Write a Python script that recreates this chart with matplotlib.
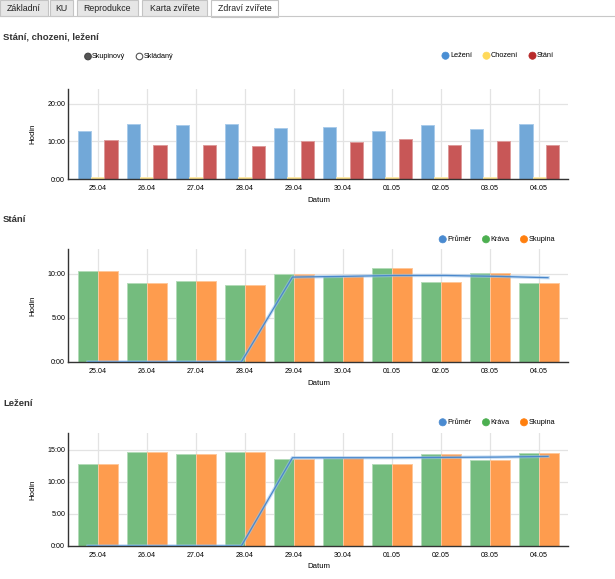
import matplotlib
matplotlib.use("Agg")
import matplotlib.pyplot as plt
from matplotlib.patches import Rectangle, Circle
from matplotlib.ticker import FuncFormatter, FixedLocator

plt.rcParams['font.family'] = ['Liberation Sans', 'DejaVu Sans']

# ---------------- data ----------------
dates = ["25.04", "26.04", "27.04", "28.04", "29.04", "30.04", "01.05", "02.05", "03.05", "04.05"]

lezeni_krava = [12.7, 14.6, 14.3, 14.6, 13.5, 13.7, 12.7, 14.3, 13.4, 14.55]
chozeni_krava = [0.5, 0.5, 0.45, 0.45, 0.45, 0.45, 0.5, 0.5, 0.5, 0.45]
stani_krava = [10.3, 8.9, 9.13, 8.72, 10.0, 9.77, 10.64, 9.09, 10.04, 8.98]

stani_skupina = [10.3, 8.9, 9.13, 8.72, 10.0, 9.77, 10.64, 9.09, 10.04, 8.98]
stani_prumer = [0, 0, 0, 0, 9.62, 9.7, 9.8, 9.8, 9.7, 9.55]

lezeni_skupina = [12.7, 14.6, 14.3, 14.6, 13.5, 13.7, 12.7, 14.3, 13.4, 14.55]
lezeni_prumer = [0, 0, 0, 0, 13.75, 13.75, 13.75, 13.8, 13.85, 13.95]

tabs = ["Základní", "KU", "Reprodukce", "Karta zvířete", "Zdraví zvířete"]

# ---------------- figure ----------------
W, H = 615, 579
fig = plt.figure(figsize=(W / 100, H / 100), dpi=100)
fig.patch.set_facecolor("white")

def ax_px(l, t, r, b):
    return fig.add_axes([l / W, 1 - b / H, (r - l) / W, (b - t) / H])

def hm(v, pos=None):
    h = int(v)
    m = int(round((v - h) * 60))
    return f"{h}:{m:02d}"

GRID = "#e3e3e3"
TXT = "#000000"

def style_axis(ax, ymax, yticks):
    ax.set_xlim(-0.61, 9.59)
    ax.set_ylim(0, ymax)
    for s in ["top", "right"]:
        ax.spines[s].set_visible(False)
    for s in ["left", "bottom"]:
        ax.spines[s].set_color("#333333")
        ax.spines[s].set_linewidth(1.0)
        ax.spines[s].set_zorder(5)
    ax.set_xticks(range(len(dates)))
    ax.set_xticklabels(dates)
    ax.yaxis.set_major_locator(FixedLocator(yticks))
    ax.yaxis.set_major_formatter(FuncFormatter(hm))
    ax.tick_params(axis="both", length=0, labelsize=5.1, colors=TXT)
    ax.tick_params(axis="x", pad=4)
    ax.tick_params(axis="y", pad=2)
    ax.grid(True, color=GRID, linewidth=0.9)
    ax.set_axisbelow(True)
    ax.set_facecolor("none")

x = list(range(len(dates)))

# ---- chart 1 ----
ax1 = ax_px(68, 89, 568, 179)
w1 = 0.268
c_blue, c_yel, c_red = "#72a8d8", "#fddf86", "#c85757"
ax1.bar([i - w1 for i in x], lezeni_krava, w1, color=c_blue, edgecolor="#a9cbea", linewidth=0.7, zorder=2)
ax1.bar(x, chozeni_krava, w1, color=c_yel, edgecolor="#fde9a8", linewidth=0.6, zorder=2)
ax1.bar([i + w1 for i in x], stani_krava, w1, color=c_red, edgecolor="#dd9a9a", linewidth=0.7, zorder=2)
style_axis(ax1, 23.9, [0, 10, 20])

# ---- charts 2 and 3 ----
def combo(ax, krava, skupina, prumer, ymax, yticks):
    w = 0.40
    ax.bar([i - w / 2 for i in x], krava, w, color="#74bc7e", edgecolor="#b3dbb8", linewidth=0.7, zorder=2)
    ax.bar([i + w / 2 for i in x], skupina, w, color="#fe9c4e", edgecolor="#fec79a", linewidth=0.7, zorder=2)
    style_axis(ax, ymax, yticks)
    axl = ax.twiny()
    axl.set_xlim(-0.391, 9.391)
    axl.set_ylim(0, ymax)
    axl.axis("off")
    axl.plot(x, prumer, color="#9cc3ea", linewidth=2.4, alpha=0.6, zorder=3)
    axl.plot(x, prumer, color="#4a88cc", linewidth=0.9, zorder=4)

ax2 = ax_px(68, 249, 568, 362)
combo(ax2, stani_krava, stani_skupina, stani_prumer, 12.8, [0, 5, 10])

ax3 = ax_px(68, 433, 568, 546)
combo(ax3, lezeni_krava, lezeni_skupina, lezeni_prumer, 17.6, [0, 5, 10, 15])

# ---------------- overlay (page elements) ----------------
ov = fig.add_axes([0, 0, 1, 1], zorder=10)
ov.set_xlim(0, W)
ov.set_ylim(H, 0)
ov.axis("off")
ov.patch.set_alpha(0)

# tabs
tab_x = [(0, 48), (50, 73), (77, 138), (142, 207), (211, 278)]
ov.plot([0, W], [15.5, 15.5], color="#c8c8c8", linewidth=0.8)
for (l, r), name in zip(tab_x, tabs):
    active = name == "Zdraví zvířete"
    fc = "white" if active else "#e6e6e6"
    ov.add_patch(Rectangle((l, 0), r - l, 15.5 if not active else 16.5, facecolor=fc,
                           edgecolor="#c4c4c4", linewidth=0.8))
    ov.text((l + r) / 2, 8.5, name, ha="center", va="center", fontsize=6.3, color="#222222")

# headings
for y, t in [(37, "Stání, chozeni, ležení"), (219.5, "Stání"), (403, "Ležení")]:
    ov.text(3, y, t, ha="left", va="center", fontsize=6.8, fontweight="bold", color="#333333")

# radio buttons
ov.add_patch(Circle((88, 56.5), 3.3, facecolor="#555555", edgecolor="#444444", linewidth=0.8))
ov.text(92, 56.5, "Skupinový", ha="left", va="center", fontsize=5.2, color=TXT)
ov.add_patch(Circle((139.5, 56.5), 3.3, facecolor="white", edgecolor="#555555", linewidth=0.8))
ov.text(144, 56.5, "Skládaný", ha="left", va="center", fontsize=5.2, color=TXT)

def legend(items, y):
    for cx, col, lab in items:
        ov.add_patch(Circle((cx, y), 3.6, facecolor=col, edgecolor=col, linewidth=0.5))
        ov.text(cx + 4.5, y, lab, ha="left", va="center", fontsize=5.3, color=TXT)

legend([(445.5, "#4a8fd4", "Ležení"), (486.5, "#ffd95a", "Chození"), (532.5, "#b82a2a", "Stání")], 55.7)
legend([(442.7, "#4a8ad0", "Průměr"), (486.0, "#4caf50", "Kráva"), (524.0, "#ff7f0e", "Skupina")], 239.3)
legend([(442.7, "#4a8ad0", "Průměr"), (486.0, "#4caf50", "Kráva"), (524.0, "#ff7f0e", "Skupina")], 422.3)

# axis titles
for yc, yd in [(134, 200), (305.5, 383.5), (489.5, 567)]:
    ov.text(33, yc, "Hodin", ha="center", va="center", rotation=90, fontsize=5.6, color=TXT)
    ov.text(319, yd, "Datum", ha="center", va="center", fontsize=5.6, color=TXT)

fig.savefig("out.png", dpi=100, facecolor="white")
